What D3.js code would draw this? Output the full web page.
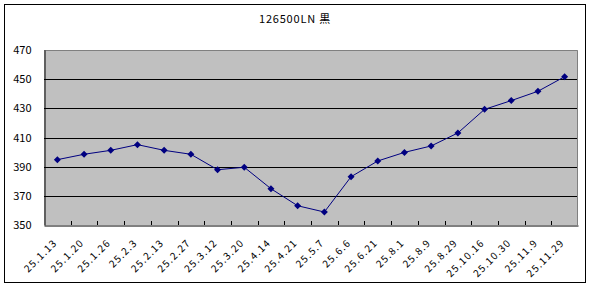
<!DOCTYPE html>
<html><head><meta charset="utf-8">
<script src="https://cdn.jsdelivr.net/npm/d3@7"></script>
<style>body{margin:0;background:#fff}svg{display:block}text{font-family:"Noto Sans CJK JP","DejaVu Sans",sans-serif}</style>
</head><body><svg id="c" width="592" height="288"></svg>
<script>
const title = "126500LN 黒";
const categories = ["25.1.13","25.1.20","25.1.26","25.2.3","25.2.13","25.2.27","25.3.12","25.3.20","25.4.14","25.4.21","25.5.7","25.6.6","25.6.21","25.8.1","25.8.9","25.8.29","25.10.16","25.10.30","25.11.9","25.11.29"];
const values = [394.8,398.5,401.2,405.1,401.2,398.5,387.9,389.6,374.9,363.2,358.9,383.1,393.9,399.8,404.2,413.1,429.3,435.3,441.7,451.7];
const yTicks = [350,370,390,410,430,450,470];

const svg = d3.select("#c");
const L=44, R=578, T=50, B=225;
svg.append("rect").attr("x",4.5).attr("y",4.5).attr("width",581).attr("height",278).attr("fill","#fff").attr("stroke","#000");
svg.append("text").attr("x",295).attr("y",23).attr("text-anchor","middle").attr("font-size",11).attr("letter-spacing",0.8).text(title);

const x = d3.scaleBand().domain(categories).range([L,R]);
const y = d3.scaleLinear().domain([350,470]).range([B,T]);

svg.append("rect").attr("x",L).attr("y",T).attr("width",R-L).attr("height",B-T).attr("fill","#C0C0C0");
svg.append("g").selectAll("line").data(yTicks.filter(d=>d>350&&d<470)).join("line")
  .attr("x1",L).attr("x2",R).attr("y1",d=>Math.round(y(d))+0.5).attr("y2",d=>Math.round(y(d))+0.5).attr("stroke","#000");
svg.append("path").attr("d",`M${L},${T+0.5}H${R-0.5}V${B}`).attr("fill","none").attr("stroke","#808080");

const ya = d3.axisLeft(y).tickValues(yTicks).tickSize(0).tickPadding(13).tickFormat(d3.format("d"));
const gy = svg.append("g").attr("transform",`translate(${L+0.5},0)`).call(ya);
gy.select(".domain").attr("stroke","#000");
gy.selectAll("text").attr("font-size",11).attr("fill","#000");

const xa = d3.axisBottom(x).tickSize(0);
const gx = svg.append("g").attr("transform",`translate(0,${B+0.5})`).call(xa);
gx.select(".domain").attr("stroke","#000");
gx.selectAll(".tick text").remove();
gx.selectAll(".tick line").remove();
svg.append("g").selectAll("line").data(categories.slice(1)).join("line")
  .attr("x1",d=>Math.round(x(d))+0.5).attr("x2",d=>Math.round(x(d))+0.5).attr("y1",B-4).attr("y2",B).attr("stroke","#000");
svg.append("g").selectAll("text").data(categories).join("text")
  .attr("transform",d=>`translate(${x(d)+x.bandwidth()/2-2},${B+16}) rotate(-45)`)
  .attr("text-anchor","end").attr("dy","0.35em").attr("font-size",10).attr("letter-spacing",1.2).attr("fill","#000").text(d=>d);

const line = d3.line().x((d,i)=>x(categories[i])+x.bandwidth()/2).y(d=>y(d));
svg.append("path").datum(values).attr("d",line).attr("fill","none").attr("stroke","#000080").attr("stroke-width",1);
svg.append("g").selectAll("path").data(values).join("path")
  .attr("transform",(d,i)=>`translate(${x(categories[i])+x.bandwidth()/2},${y(d)})`)
  .attr("d","M0,-3.5L3.5,0L0,3.5L-3.5,0Z").attr("fill","#000080");
</script></body></html>
